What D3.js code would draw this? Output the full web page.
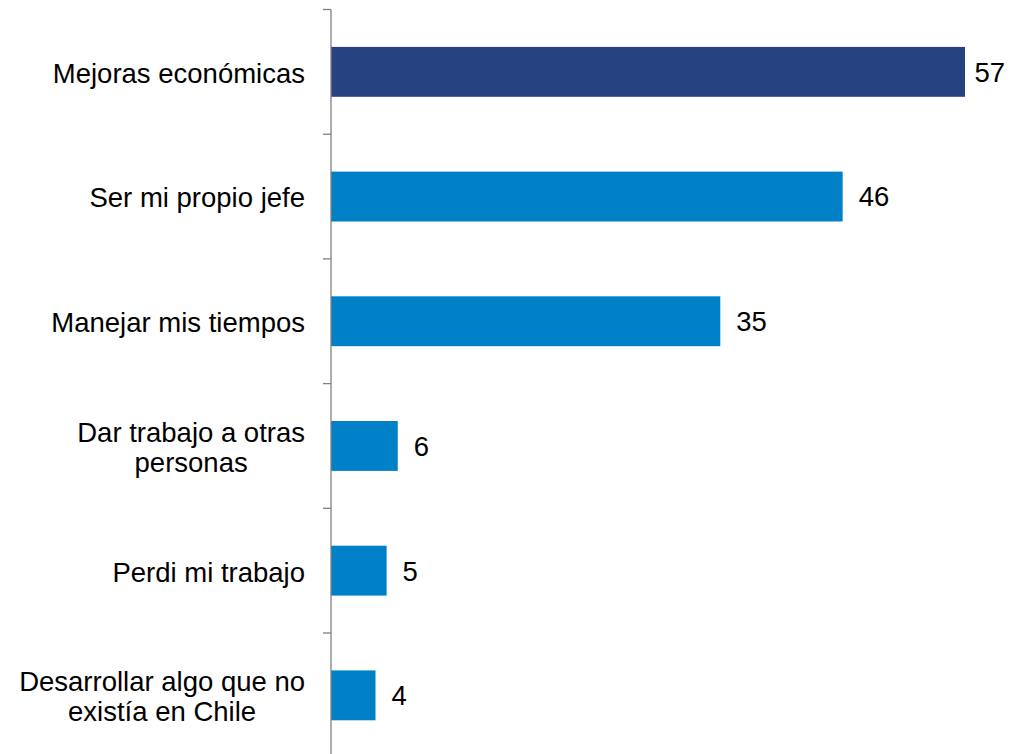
<!DOCTYPE html>
<html>
<head>
<meta charset="utf-8">
<script src="https://cdn.jsdelivr.net/npm/d3@7"></script>
<style>
  body { margin: 0; background: #fff; }
  text { font-family: "Liberation Sans", Arial, sans-serif; fill: #000; }
</style>
</head>
<body>
<svg></svg>
<script>
// categories (multi-line labels split with |) and their percentages
const categories = [
  'Mejoras económicas',
  'Ser mi propio jefe',
  'Manejar mis tiempos',
  'Dar trabajo a otras|personas',
  'Perdi mi trabajo',
  'Desarrollar algo que no|existía en Chile'
];
const values = [57, 46, 35, 6, 5, 4];

const width = 1010;
const height = 754;
const axisX = 331;
const fontSize = 27.5;

const data = categories.map((c, i) => ({ label: c, value: values[i] }));

const svg = d3.select('svg')
              .attr('width', width)
              .attr('height', height);

const xScale = d3.scaleLinear()
                 .domain([0, 57])
                 .range([axisX, 965]);

const yScale = d3.scaleBand()
                 .domain(categories)
                 .range([9.5, 9.5 + 124.7 * 6])
                 .paddingInner(0.6)
                 .paddingOuter(0.3);

// bars
svg
  .selectAll('rect')
  .data(data)
  .enter()
  .append('rect')
    .attr('x', xScale(0))
    .attr('y', (d) => yScale(d.label))
    .attr('width', (d) => xScale(d.value) - xScale(0))
    .attr('height', yScale.bandwidth())
    .attr('fill', (d, i) => i === 0 ? '#264281' : '#0080c6');

// value labels (kept inside the picture on the right)
svg
  .selectAll('.value')
  .data(data)
  .enter()
  .append('text')
    .classed('value', true)
    .text((d) => d.value)
    .attr('y', (d) => yScale(d.label) + yScale.bandwidth() / 2)
    .attr('dy', '0.36em')
    .style('font-size', fontSize + 'px')
    .attr('x', function (d) {
      const w = this.getComputedTextLength();
      return Math.min(xScale(d.value) + 16, width - 5 - w);
    });

// axis: vertical line with ticks between categories
const step = yScale.step();
const boundaries = d3.range(categories.length + 1).map((i) => 9.5 + i * step);

svg
  .selectAll('.tickline')
  .data(boundaries)
  .enter()
  .append('line')
    .classed('tickline', true)
    .attr('x1', axisX - 8)
    .attr('x2', axisX)
    .attr('y1', (d) => d)
    .attr('y2', (d) => d)
    .attr('stroke', '#808080')
    .attr('stroke-width', 1.3);

svg
  .append('line')
    .attr('x1', axisX)
    .attr('x2', axisX)
    .attr('y1', 9.5)
    .attr('y2', height)
    .attr('stroke', '#808080')
    .attr('stroke-width', 1.3);

// category labels
const labels = svg
  .selectAll('.cat')
  .data(data)
  .enter()
  .append('text')
    .classed('cat', true)
    .attr('text-anchor', 'middle')
    .style('font-size', fontSize + 'px');

labels.each(function (d) {
  const lines = d.label.split('|');
  const cy = yScale(d.label) + yScale.bandwidth() / 2 + 1;
  const lh = 30;
  const el = d3.select(this);
  lines.forEach((line, j) => {
    el.append('tspan')
      .text(line)
      .attr('y', cy + (j - (lines.length - 1) / 2) * lh)
      .attr('dy', '0.36em');
  });
});

// right-aligned block, lines centred within it
labels.each(function () {
  const tspans = d3.select(this).selectAll('tspan');
  let maxW = 0;
  tspans.each(function () { maxW = Math.max(maxW, this.getComputedTextLength()); });
  tspans.attr('x', 305 - maxW / 2);
});
</script>
</body>
</html>
